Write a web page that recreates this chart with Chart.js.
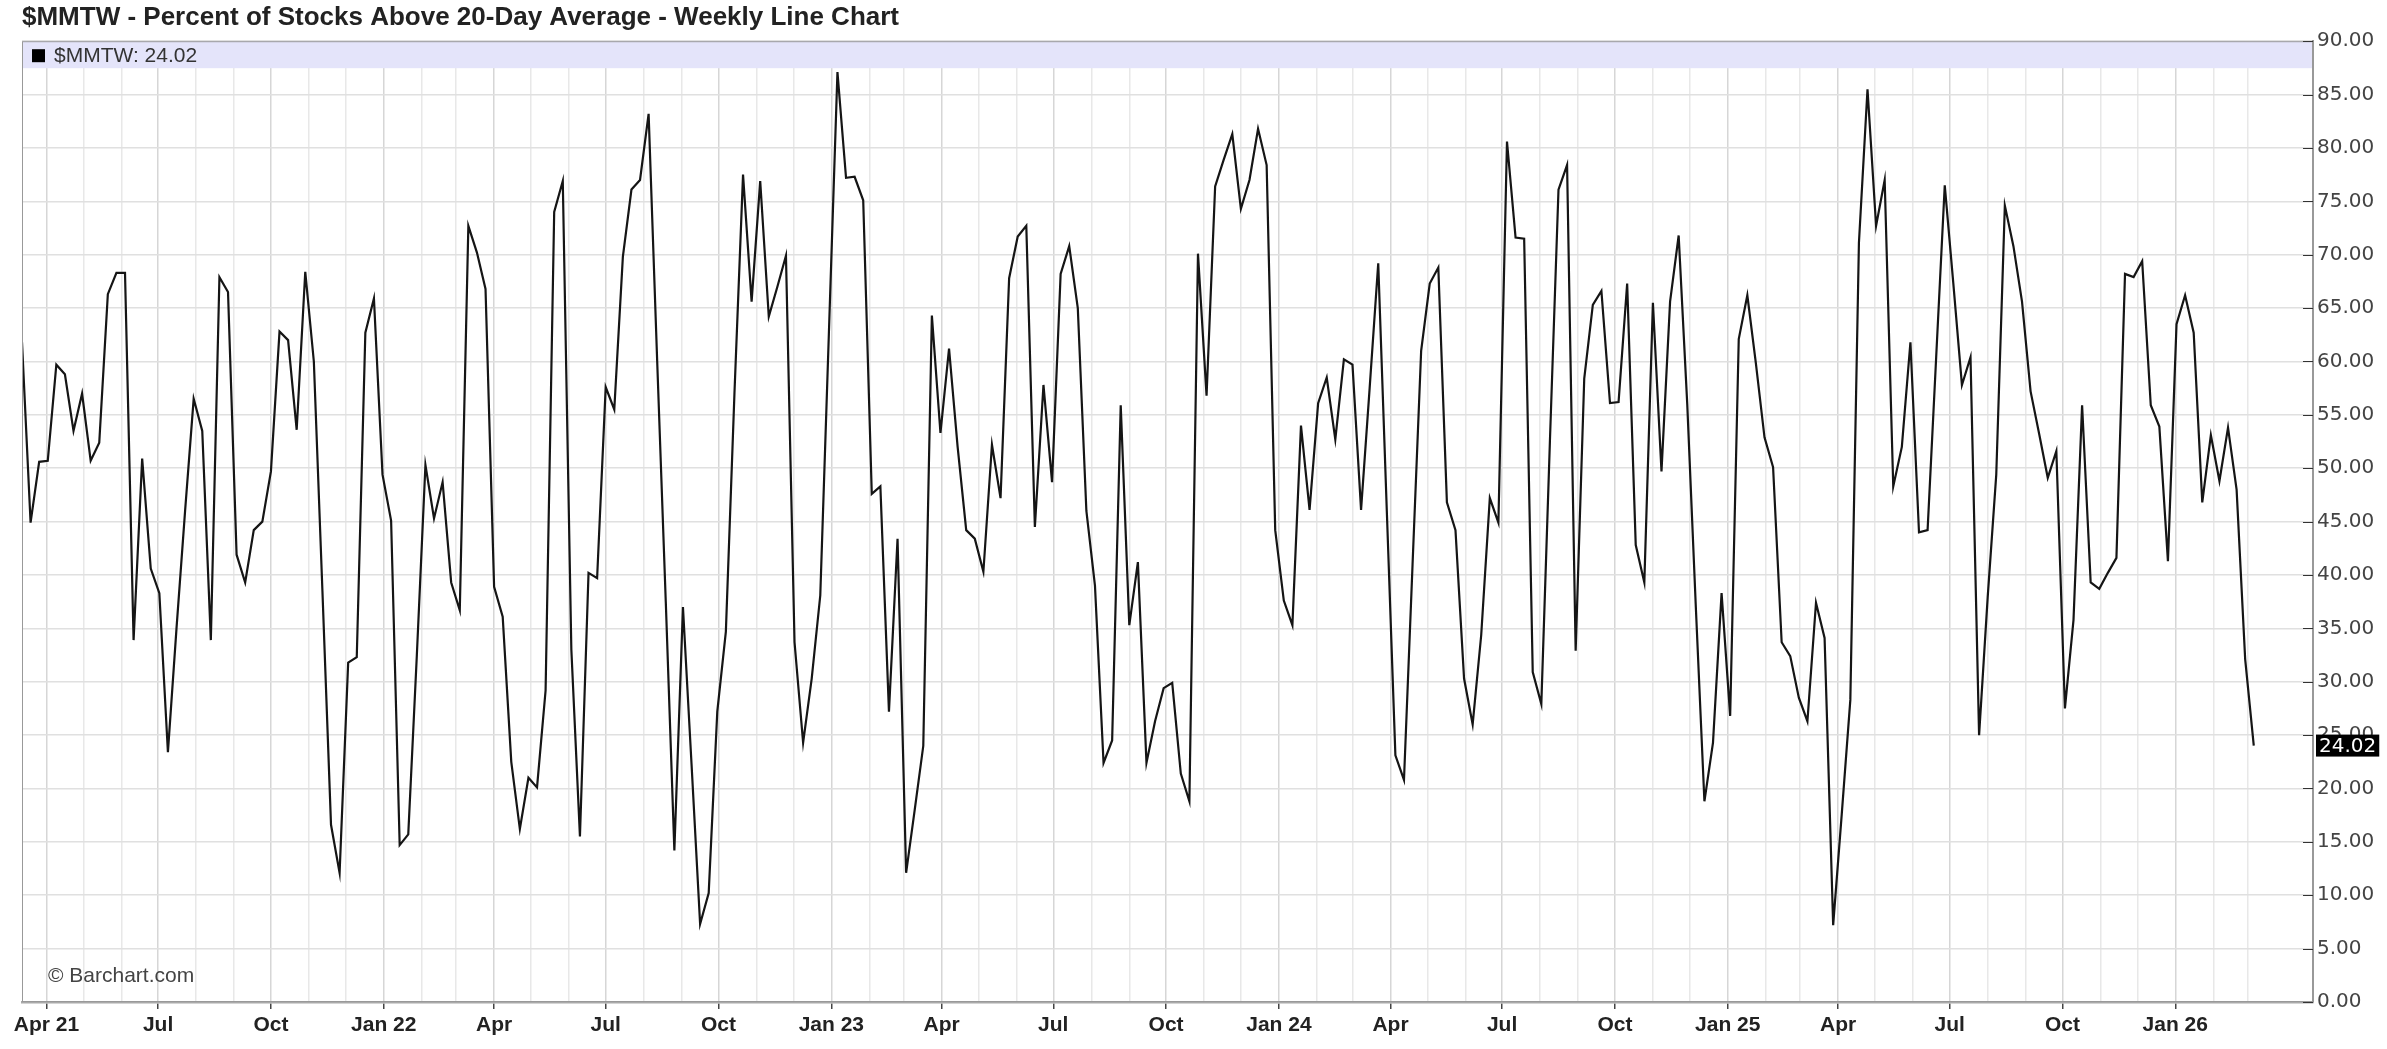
<!DOCTYPE html>
<html>
<head>
<meta charset="utf-8">
<title>$MMTW Weekly Line Chart</title>
<script src="https://cdn.jsdelivr.net/npm/chart.js@4.4.1/dist/chart.umd.min.js"></script>
<style>
  html, body { margin: 0; padding: 0; background: #fff; }
  #wrap { width: 2387px; height: 1049px; }
</style>
</head>
<body>
<div id="wrap"><canvas id="chart" width="2387" height="1049"></canvas></div>
<script>
"use strict";

const symbol = "$MMTW";
const chartTitle = "$MMTW - Percent of Stocks Above 20-Day Average - Weekly Line Chart";

// weekly closes, first bar is the week ending Fri 12 Mar 2021
const firstWeek = [2021, 2, 12];
const mmtwValues = [
  61.8, 44.9, 50.6, 50.7, 59.7, 58.8, 53.5, 57.0, 50.7, 52.4,
  66.3, 68.3, 68.3, 33.9, 50.9, 40.6, 38.3, 23.4, 35.0, 46.0,
  56.5, 53.5, 33.9, 67.9, 66.5, 41.9, 39.3, 44.2, 45.0, 49.7,
  62.8, 62.0, 53.6, 68.4, 60.0, 38.5, 16.6, 12.1, 31.8, 32.3,
  62.7, 65.9, 49.4, 45.1, 14.7, 15.7, 32.5, 50.3, 45.3, 48.7,
  39.3, 36.7, 72.7, 70.2, 66.8, 38.9, 36.1, 22.5, 16.2, 21.0,
  20.1, 29.2, 74.0, 76.9, 33.0, 15.5, 40.2, 39.7, 57.6, 55.5,
  69.8, 76.1, 77.0, 83.2, 60.0, 37.5, 14.2, 37.0, 22.3, 7.3,
  10.2, 27.2, 34.7, 57.0, 77.5, 65.6, 76.9, 64.2, 67.0, 69.9,
  33.7, 24.3, 30.3, 38.1, 62.6, 87.1, 77.2, 77.3, 75.1, 47.6,
  48.3, 27.2, 43.4, 12.1, 18.0, 24.0, 64.3, 53.3, 61.2, 52.0,
  44.2, 43.4, 40.3, 52.2, 47.2, 67.8, 71.7, 72.7, 44.5, 57.8,
  48.7, 68.2, 70.8, 65.0, 46.0, 39.0, 22.4, 24.5, 55.9, 35.3,
  41.2, 22.4, 26.3, 29.4, 29.9, 21.4, 18.8, 70.1, 56.8, 76.4,
  78.9, 81.3, 74.3, 77.0, 81.8, 78.4, 44.2, 37.6, 35.3, 54.0,
  46.1, 56.1, 58.5, 52.7, 60.2, 59.7, 46.1, 57.5, 69.2, 46.0,
  23.1, 20.8, 41.0, 61.0, 67.3, 68.8, 46.8, 44.2, 30.3, 26.0,
  34.4, 47.2, 44.9, 80.6, 71.6, 71.5, 30.9, 27.9, 52.5, 76.1,
  78.4, 32.9, 58.4, 65.3, 66.6, 56.1, 56.2, 67.3, 42.8, 39.3,
  65.5, 49.7, 65.6, 71.8, 56.0, 37.0, 18.8, 24.3, 38.3, 26.8,
  62.1, 66.2, 59.8, 52.9, 50.1, 33.7, 32.4, 28.5, 26.3, 37.4,
  34.1, 7.2, 17.6, 28.3, 71.1, 85.5, 72.7, 77.0, 48.3, 52.0,
  61.8, 44.0, 44.2, 60.4, 76.5, 67.3, 57.8, 60.4, 25.0, 37.9,
  49.4, 74.6, 70.8, 65.6, 57.2, 53.2, 49.1, 51.6, 27.5, 35.8,
  55.9, 39.3, 38.7, 40.2, 41.6, 68.2, 67.9, 69.4, 55.9, 53.9,
  41.3, 63.5, 66.2, 62.7, 46.8, 53.1, 48.8, 53.8, 48.0, 32.1,
  24.02
];

// labels for the quarter months, Apr 2021 .. Jan 2026
const tickLabels = [
  "Apr 21", "Jul", "Oct",
  "Jan 22", "Apr", "Jul", "Oct",
  "Jan 23", "Apr", "Jul", "Oct",
  "Jan 24", "Apr", "Jul", "Oct",
  "Jan 25", "Apr", "Jul", "Oct",
  "Jan 26"
];

const yMin = 0;
const yMax = 90;
const yStep = 5;
const xMaxWeek = 266.9;

const lastValue = mmtwValues[mmtwValues.length - 1];

const DAY = 864e5;
const startMs = Date.UTC(firstWeek[0], firstWeek[1], firstWeek[2]);

function weekIndex(y, m, d) {
  return (Date.UTC(y, m, d) - startMs) / (7 * DAY);
}

// one grid line per month (Apr 2021 - Mar 2026), label only on quarters
const monthTicks = [];
let q = 0;
for (let y = 2021; y <= 2026; y++) {
  for (let m = 0; m < 12; m++) {
    if (y === 2021 && m < 3) continue;
    if (y === 2026 && m > 2) break;
    const isQuarter = m % 3 === 0;
    monthTicks.push({
      value: weekIndex(y, m, 1),
      label: isQuarter ? tickLabels[q++] : "",
      major: isQuarter
    });
  }
}

const points = mmtwValues.map((v, i) => ({ x: i, y: v }));

const chartDecor = {
  id: "chartDecor",
  beforeDatasetsDraw(chart) {
    const { ctx, chartArea } = chart;
    ctx.save();
    // legend band along the top
    ctx.fillStyle = "#e4e4fa";
    ctx.fillRect(chartArea.left, chartArea.top, chartArea.right - chartArea.left, 27);
    ctx.fillStyle = "#000";
    ctx.fillRect(chartArea.left + 10, chartArea.top + 8, 13, 13);
    ctx.font = "21px 'Liberation Sans', Arial, sans-serif";
    ctx.fillStyle = "#333";
    ctx.textBaseline = "middle";
    ctx.fillText(symbol + ": " + lastValue.toFixed(2), chartArea.left + 32, chartArea.top + 15);

    ctx.font = "21px 'Liberation Sans', Arial, sans-serif";
    ctx.fillStyle = "#444";
    ctx.fillText("\u00A9 Barchart.com", chartArea.left + 26, chartArea.bottom - 26);
    ctx.restore();
  },
  afterDraw(chart) {
    const { ctx, chartArea, scales } = chart;
    const yScale = scales.y;
    ctx.save();
    ctx.strokeStyle = "#999";
    ctx.lineWidth = 1;
    ctx.strokeRect(chartArea.left + 0.5, chartArea.top + 0.5,
      chartArea.right - chartArea.left - 1, chartArea.bottom - chartArea.top - 1);

    // small dashes just inside the price axis
    ctx.strokeStyle = "#333";
    yScale.ticks.forEach(t => {
      const py = Math.round(yScale.getPixelForValue(t.value)) + 0.5;
      ctx.beginPath();
      ctx.moveTo(chartArea.right - 10, py);
      ctx.lineTo(chartArea.right, py);
      ctx.stroke();
    });

    // last value flag on the axis
    const vy = yScale.getPixelForValue(lastValue);
    const txt = lastValue.toFixed(2);
    ctx.font = "20px 'DejaVu Sans', sans-serif";
    const w = ctx.measureText(txt).width;
    ctx.fillStyle = "#000";
    ctx.fillRect(chartArea.right + 3, vy - 11, w + 6, 22);
    ctx.fillStyle = "#fff";
    ctx.textBaseline = "middle";
    ctx.fillText(txt, chartArea.right + 6, vy + 1);
    ctx.restore();
  }
};

const config = {
  type: "line",
  data: {
    datasets: [
      {
        label: symbol,
        data: points,
        borderColor: "#151515",
        borderWidth: 2.2,
        pointRadius: 0,
        tension: 0,
        fill: false
      }
    ]
  },
  options: {
    responsive: false,
    animation: false,
    layout: { padding: { left: 22, right: 0, top: 0, bottom: 0 } },
    plugins: {
      legend: { display: false },
      tooltip: { enabled: false },
      title: {
        display: true,
        text: chartTitle,
        align: "start",
        color: "#222",
        font: { family: "'Liberation Sans', Arial, sans-serif", size: 26, weight: "bold" },
        padding: { top: 2, bottom: 8 }
      }
    },
    scales: {
      x: {
        type: "linear",
        min: 0,
        max: xMaxWeek,
        afterBuildTicks: scale => {
          scale.ticks = monthTicks.map(t => ({ value: t.value }));
        },
        afterFit: scale => { scale.height = 47; },
        ticks: {
          autoSkip: false,
          maxRotation: 0,
          padding: 4,
          color: "#222",
          font: { family: "'Liberation Sans', Arial, sans-serif", size: 21, weight: "bold" },
          callback: (value, index) => monthTicks[index] ? monthTicks[index].label : ""
        },
        grid: {
          color: c => (monthTicks[c.index] && monthTicks[c.index].major) ? "#d6d6d6" : "#e8e8e8",
          tickColor: c => (monthTicks[c.index] && monthTicks[c.index].major) ? "#444" : "rgba(0,0,0,0)",
          tickLength: 7,
          lineWidth: 1.5
        },
        border: { color: "#aaa", width: 2.5 }
      },
      y: {
        position: "right",
        min: yMin,
        max: yMax,
        afterFit: scale => { scale.width = 74; },
        ticks: {
          stepSize: yStep,
          padding: 4,
          color: "#444",
          font: { family: "'DejaVu Sans', sans-serif", size: 20 },
          callback: v => v.toFixed(2)
        },
        grid: { color: "#e0e0e0", lineWidth: 1.5, drawTicks: false },
        border: { color: "#999", width: 2 }
      }
    }
  },
  plugins: [chartDecor]
};

const mmtwChart = new Chart(document.getElementById("chart"), config);
</script>
</body>
</html>
